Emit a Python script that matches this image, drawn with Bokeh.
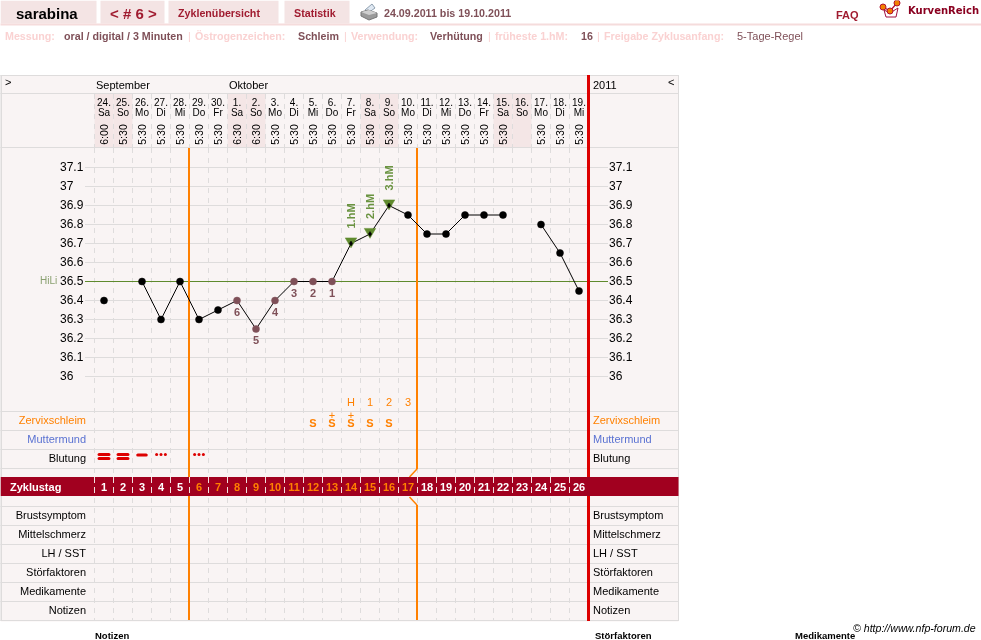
from bokeh.plotting import figure
from bokeh.models import Range1d
from bokeh.core.properties import value
from bokeh.embed import file_html
from bokeh.resources import INLINE

nan = float("nan")

# ---- data ----
cycle_days = list(range(1, 27))
dates = ["24.","25.","26.","27.","28.","29.","30.","1.","2.","3.","4.","5.","6.","7.","8.","9.","10.","11.","12.","13.","14.","15.","16.","17.","18.","19."]
weekdays = ["Sa","So","Mo","Di","Mi","Do","Fr","Sa","So","Mo","Di","Mi","Do","Fr","Sa","So","Mo","Di","Mi","Do","Fr","Sa","So","Mo","Di","Mi"]
times = ["6:00","5:30","5:30","5:30","5:30","5:30","5:30","6:30","6:30","5:30","5:30","5:30","5:30","5:30","5:30","5:30","5:30","5:30","5:30","5:30","5:30","5:30","","5:30","5:30","5:30"]
temps = [36.4,nan,36.5,36.3,36.5,36.3,36.35,36.4,36.25,36.4,36.5,36.5,36.5,36.7,36.75,36.9,36.85,36.75,36.75,36.85,36.85,36.85,nan,36.8,36.65,36.45]
temp_ticks = [37.1,37,36.9,36.8,36.7,36.6,36.5,36.4,36.3,36.2,36.1,36]
temp_tick_labels = ["37.1","37","36.9","36.8","36.7","36.6","36.5","36.4","36.3","36.2","36.1","36"]
hili = 36.5
low_days = [8,9,10,11,12,13]
low_labels = ["6","5","4","3","2","1"]
high_days = [14,15,16]
high_labels = ["1.hM","2.hM","3.hM"]
mucus_days = [12,13,14,15,16]
mucus_plus_days = [13,14]
peak_days = [14,15,16,17]
peak_labels = ["H","1","2","3"]
bleed_heavy = [1,2]
bleed_medium = [3]
bleed_light = [4,6]
fertile_start_day = 5
fertile_end_day = 17
rows_upper = ["Zervixschleim","Muttermund","Blutung"]
rows_lower = ["Brustsymptom","Mittelschmerz","LH / SST","Störfaktoren","Medikamente","Notizen"]

# ---- colours ----
PANEL = "#f9f4f4"; SHADE = "#f4e6e6"; RULE = "#dedcdc"; BAND = "#a1001f"
ORANGE = "#ff8000"; RED = "#dd0000"; BROWN = "#7f5058"; GREEN = "#5f8a2d"
PINK = "#fad2d2"; TAB = "#f4e4e4"; TABTXT = "#a01c30"; BLUE = "#5a72d2"
FONT = "Liberation Sans"

p = figure(width=981, height=640, x_range=Range1d(0.5, 981.5), y_range=Range1d(640.5, 0.5),
           x_axis_type=None, y_axis_type=None, toolbar_location=None, output_backend="svg",
           min_border=0, outline_line_color=None, background_fill_color="white",
           border_fill_color="white", styles={"position": "fixed", "left": "0px", "top": "0px"})
p.grid.visible = False

# scales of the chart: day number -> px, temperature -> px
DAY_PX = 19.0; TEMP_PX = 190.0
p.extra_x_ranges["day"] = Range1d((0.5 - 85) / DAY_PX, (981.5 - 85) / DAY_PX)
p.extra_y_ranges["temp"] = Range1d(36.5 + (281.5 - 640.5) / TEMP_PX, 36.5 + (281.5 - 0.5) / TEMP_PX)
DAY = dict(x_range_name="day"); TEMP = dict(y_range_name="temp")

def T(x, y, s, size=11, color="#000000", bold=False, italic=False, align="left", angle=0,
      font=FONT, y_offset=0, **kw):
    style = "bold italic" if bold and italic else "bold" if bold else "italic" if italic else "normal"
    xs = x if isinstance(x, list) else [x]
    ys = y if isinstance(y, list) else [y] * len(xs)
    ss = s if isinstance(s, list) else [s] * len(xs)
    p.text(xs, ys, text=ss, text_font=value(font), text_font_size=f"{size}px",
           text_font_style=style, text_color=color, text_align=align, text_baseline="middle",
           angle=angle, angle_units="deg", y_offset=y_offset - 1, **kw)

def box(x0, x1, y0, y1, color, **kw):
    p.quad(left=x0, right=x1, top=y0, bottom=y1, fill_color=color, line_color=None, **kw)

def hl(y, x0, x1, color=RULE, w=1, **kw):
    p.segment(x0, y, x1, y, line_color=color, line_width=w, **kw)

# ---- top bar ----
for x0, x1 in [(0, 96), (100, 164), (168, 278), (284, 349)]:
    box(x0 + 0.5, x1 + 0.5, 0.5, 23.5, TAB)
box(0, 982, 23.5, 25.5, "#f5dcdc")
T(16, 14, "sarabina", 15, "#000000", True)
T(110, 14, "< # 6 >", 15, TABTXT, True)
T(178, 13.5, "Zyklenübersicht", 10.7, TABTXT, True)
T(294, 13.5, "Statistik", 10.7, TABTXT, True)
T(384, 13.5, "24.09.2011 bis 19.10.2011", 10.7, BROWN, True)
T(836, 15.5, "FAQ", 11, TABTXT, True)
T(908, 11, "KurvenReich", 10, "#8a0020", True, font="DejaVu Sans")

# printer icon
p.patch([365, 372, 375, 368], [10, 4, 8, 13], fill_color="#dfe8f2", line_color="#8fa0b0", line_width=1)
p.patch([361, 368, 377, 377, 369, 361], [12, 10, 13, 17, 20, 16], fill_color="#9a9a9a", line_color="#777777", line_width=1)
p.patch([361, 369, 377, 369], [12, 15, 13, 10], fill_color="#cfcfcf", line_color=None)

# crown logo
p.patch([884, 890, 898, 896, 886], [10, 13, 8, 17, 17], fill_color="#ffffff", line_color="#a01040", line_width=1)
p.line([883, 890, 897], [7, 11, 3], line_color="#b01030", line_width=1.2)
p.scatter([883, 890, 897], [7, 11, 3], size=6, marker="circle", fill_color="#f08000", line_color="#b01030")

# ---- settings line ----
settings = [(5, "Messung:", PINK, True), (64, "oral / digital / 3 Minuten", BROWN, True),
            (188, "|", PINK, False), (195, "Östrogenzeichen:", PINK, True), (298, "Schleim", BROWN, True),
            (344, "|", PINK, False), (351, "Verwendung:", PINK, True), (430, "Verhütung", BROWN, True),
            (488, "|", PINK, False), (495, "früheste 1.hM:", PINK, True), (581, "16", BROWN, True),
            (597, "|", PINK, False), (604, "Freigabe Zyklusanfang:", PINK, True)]
for x, s, c, b in settings:
    T(x, 36.5, s, 10.7, c, b)
T(737, 36.5, "5-Tage-Regel", 11, BROWN)

# ---- panel ----
box(0.5, 678.5, 75.5, 621.5, PANEL)
for d in cycle_days:
    if weekdays[d - 1] in ("Sa", "So"):
        box(d - 0.5, d + 0.5, 94, 147, SHADE, **DAY)

# horizontal grid
for t in temp_ticks:
    hl(t, 85, 608, RULE, 1, y_range_name="temp")

# vertical dashed grid
bounds = [d + 0.5 for d in [0] + cycle_days[:-1]]
p.segment(bounds, 94, bounds, 147, line_color=RULE, line_width=1, line_dash="5 5", **DAY)
p.segment(bounds, 148, bounds, 620, line_color=RULE, line_width=1, line_dash="5 5", **DAY)

# rules and frame
for y in [75.5, 93.5, 147.5, 411.5, 430.5, 449.5, 468.5, 506.5, 525.5, 544.5, 563.5, 582.5, 601.5, 620.5]:
    hl(y, 0, 679, RULE, 1)
p.segment(1, 75, 1, 621, line_color=RULE, line_width=2)
p.segment(678.5, 75, 678.5, 621, line_color=RULE, line_width=1)

# header
T(96, 85.5, "September", 11); T(229, 85.5, "Oktober", 11); T(593, 85.5, "2011", 11)
T(5, 83, ">", 11); T(668, 83, "<", 11)
T(cycle_days, 103, dates, 10, align="center", **DAY)
T(cycle_days, 113, weekdays, 10, align="center", **DAY)
T(cycle_days, 135.5, times, 10.5, align="center", angle=90, **DAY)

# HiLi line + fertile / cycle markers
hl(hili, 85, 608, GREEN, 1, y_range_name="temp")
T(40, 281.5, "HiLi", 10, "#8aa070")
half_px = 0.5 / DAY_PX
start_x = fertile_start_day + 0.5 - half_px
end_x = fertile_end_day + 0.5 - half_px
p.segment(start_x, 148, start_x, 620, line_color=ORANGE, line_width=2, **DAY)
p.segment(end_x, 148, end_x, 469, line_color=ORANGE, line_width=2, **DAY)
p.segment(end_x, 505, end_x, 620, line_color=ORANGE, line_width=2, **DAY)
p.line([end_x, fertile_end_day + 0.08], [469, 477], line_color=ORANGE, line_width=1.5, **DAY)
p.line([end_x, fertile_end_day + 0.08], [505, 497], line_color=ORANGE, line_width=1.5, **DAY)
p.segment(588.5, 75, 588.5, 477, line_color=RED, line_width=3)
p.segment(588.5, 496, 588.5, 621, line_color=RED, line_width=3)

# temperature labels
T([60] * 12, temp_ticks, temp_tick_labels, 12, y_range_name="temp")
T([609] * 12, temp_ticks, temp_tick_labels, 12, y_range_name="temp")

# curve
p.line(cycle_days, temps, line_color="#000000", line_width=1, **DAY, **TEMP)
solid = [d for d in cycle_days if temps[d - 1] == temps[d - 1] and d not in low_days and d not in high_days]
p.scatter(solid, [temps[d - 1] for d in solid], size=7, marker="circle", fill_color="#000000", line_color="#000000", line_width=0.5, **DAY, **TEMP)
p.scatter(low_days, [temps[d - 1] for d in low_days], size=7, marker="circle", fill_color=BROWN, line_color=BROWN, line_width=0.5, **DAY, **TEMP)
T(low_days, [temps[d - 1] for d in low_days], low_labels, 11, BROWN, True, align="center", y_offset=12, **DAY, **TEMP)
high_t = [temps[d - 1] for d in high_days]
p.scatter(high_days, [t + 0.012 for t in high_t], size=11.5, marker="inverted_triangle", fill_color=GREEN, line_color=GREEN, line_width=0.5, **DAY, **TEMP)
p.scatter(high_days, high_t, size=5, marker="diamond", fill_color="#000000", line_color="#000000", line_width=0.5, **DAY, **TEMP)
T(high_days, high_t, high_labels, 11, "#6a9340", True, align="left", angle=90, y_offset=-14, **DAY, **TEMP)

# symptom rows
T(peak_days, 403, peak_labels, 11, ORANGE, False, align="center", **DAY)
T(mucus_days, 424, "S", 11, ORANGE, True, align="center", **DAY)
T(mucus_plus_days, 416, "+", 11, ORANGE, False, align="center", **DAY)
for d in bleed_heavy:
    p.segment(d - 0.26, 454.5, d + 0.26, 454.5, line_color=RED, line_width=3, line_cap="round", **DAY)
    p.segment(d - 0.26, 458.5, d + 0.26, 458.5, line_color=RED, line_width=3, line_cap="round", **DAY)
for d in bleed_medium:
    p.segment(d - 0.22, 455, d + 0.22, 455, line_color=RED, line_width=3.2, line_cap="round", **DAY)
for d in bleed_light:
    p.scatter([d - 0.23, d, d + 0.23], [454.5, 454.5, 454.5], size=3, marker="circle", fill_color=RED, line_color=None, **DAY)

upper_colors = [ORANGE, BLUE, "#000000"]
for i, (s, c) in enumerate(zip(rows_upper, upper_colors)):
    y = 421 + i * 19
    T(86, y, s, 11, c, align="right")
    T(593, y, s, 11, c)
for i, s in enumerate(rows_lower):
    y = 516 + i * 19
    T(86, y, s, 11, align="right")
    T(593, y, s, 11)

# cycle-day band
box(0.5, 678.5, 477, 496, BAND)
T(10, 487.5, "Zyklustag", 11, "#ffffff", True)
p.segment(bounds, 477, bounds, 496, line_color="#f2e0e0", line_width=1, line_dash="6 4", **DAY)
day_colors = [ORANGE if fertile_start_day < d <= fertile_end_day else "#ffffff" for d in cycle_days]
for d, c in zip(cycle_days, day_colors):
    T(d, 487.5, str(d), 11, c, True, align="center", **DAY)

# footer
T(853, 628.5, "\u00a9 http://www.nfp-forum.de", 10.6, "#000000", italic=True)
T(95, 636, "Notizen", 9.5, bold=True); T(595, 636, "Störfaktoren", 9.5, bold=True); T(795, 636, "Medikamente", 9.5, bold=True)

open("out.html", "w").write(file_html(p, INLINE))
